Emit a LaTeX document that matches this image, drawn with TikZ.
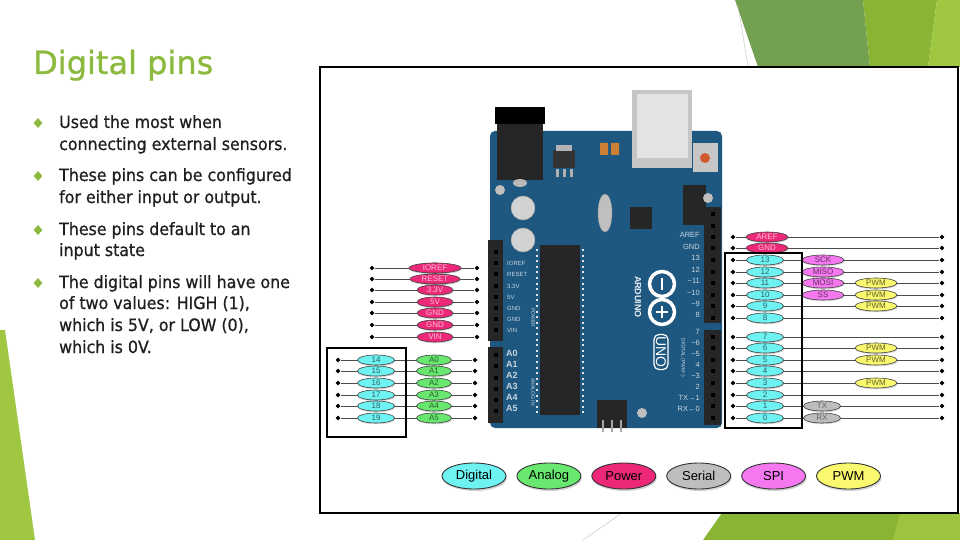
\documentclass[tikz,border=0pt]{standalone}
\usepackage{fontspec}
\setmainfont{Liberation Sans}
\newfontfamily\slidefont[FakeStretch=0.93,FakeBold=0.8]{DejaVu Sans}
\newfontfamily\titlefont[FakeBold=0.8]{DejaVu Sans}
\usetikzlibrary{shapes.geometric,shadows,positioning}

\definecolor{slidegreen}{RGB}{140,186,62}
\definecolor{greendark}{RGB}{116,160,82}
\definecolor{greenmid}{RGB}{137,180,52}
\definecolor{greenlight}{RGB}{158,198,64}
\definecolor{boardblue}{RGB}{30,88,128}
\definecolor{pindigital}{RGB}{110,242,242}
\definecolor{pinanalog}{RGB}{105,232,112}
\definecolor{pinpower}{RGB}{238,40,120}
\definecolor{pinserial}{RGB}{190,190,190}
\definecolor{pinspi}{RGB}{245,120,240}
\definecolor{pinpwm}{RGB}{250,248,110}

\tikzset{
  pinoval/.style={ellipse, draw=black!75, line width=0.6pt, inner sep=0pt,
    minimum height=10pt, font=\fontsize{8}{8}\selectfont,
    drop shadow={shadow xshift=0.6pt, shadow yshift=-1.2pt, opacity=0.35}},
  digitalpin/.style={pinoval, fill=pindigital, text=pindigital!40!black, minimum width=37pt},
  analogpin/.style={pinoval, fill=pinanalog, text=pinanalog!40!black, minimum width=35pt},
  powerpin/.style={pinoval, fill=pinpower, text=pinpower!30!white, minimum width=36pt},
  serialpin/.style={pinoval, fill=pinserial, text=black!60, minimum width=37pt},
  spipin/.style={pinoval, fill=pinspi, text=pinspi!40!black, minimum width=42pt},
  pwmpin/.style={pinoval, fill=pinpwm, text=pinpwm!40!black, minimum width=42pt},
  legendoval/.style={ellipse, draw=black!80, line width=0.9pt, inner sep=0pt,
    minimum width=64pt, minimum height=26pt, font=\fontsize{13}{13}\selectfont,
    drop shadow={shadow xshift=1pt, shadow yshift=-2pt, opacity=0.35}},
  pindot/.style={diamond, fill=black, inner sep=0pt, minimum size=5pt},
  wire/.style={black!70, line width=0.7pt},
  bulletmark/.style={diamond, fill=slidegreen, inner sep=0pt, minimum width=9pt, minimum height=10pt},
  bodytext/.style={anchor=base west, inner sep=0pt, text=black!88,
    font=\slidefont\fontsize{17}{20}\selectfont},
  header/.style={fill=black!85},
  hole/.style={fill=black, minimum size=4pt, inner sep=0pt},
  boardlbl/.style={text=white!75!boardblue, inner sep=0pt, font=\fontsize{6}{6}\selectfont},
  framebox/.style={draw=black, line width=2.2pt},
}

\begin{document}
\begin{tikzpicture}[x=1pt,y=-1pt]
\useasboundingbox (0,0) rectangle (960,540);
\fill[white] (0,0) rectangle (960,540);

% slide decoration
\fill[greendark] (735,0) -- (863,0) -- (870,67) -- (758,67) -- cycle;
\fill[greenmid] (863,0) -- (937,0) -- (928,67) -- (870,67) -- cycle;
\fill[greenlight] (937,0) -- (960,0) -- (960,67) -- (928,67) -- cycle;
\draw[black!30, line width=0.3pt] (738,5) -- (748,67);
\fill[greenmid] (722,513) -- (960,513) -- (960,540) -- (703,540) -- cycle;
\fill[greenlight!90!greenmid] (900,513) -- (960,513) -- (960,540) -- (893,540) -- cycle;
\draw[black!30, line width=0.3pt] (583,540) -- (622,513);
\fill[greenlight] (0,330) -- (5,330) -- (35,540) -- (0,540) -- cycle;

% title and bullets
\node[anchor=base west, inner sep=0pt, text=slidegreen,
  font=\titlefont\fontsize{32}{32}\selectfont] (title) at (33,74) {Digital pins};
\foreach \y [count=\i] in {123,176,230,283}
  \node[bulletmark] (bul\i) at (38,\y) {};
\foreach \y/\txt [count=\i] in {128/Used the most when, 150/connecting external sensors.,
    181/These pins can be configured, 203/for either input or output.,
    235/These pins default to an, 256/input state,
    288/The digital pins will have one, 309/{of two values: HIGH (1),},
    331/{which is 5V, or LOW (0),}, 353/which is 0V.}
  \node[bodytext] (line\i) at (59,\y) {\txt};

% picture frame
\draw[line width=1.8pt] (320,67) rectangle (958,513);

% board
\fill[boardblue, rounded corners=5pt] (490,131) rectangle (722,428);
\fill[black!85] (497,112) rectangle (543,180);
\fill[black] (495,107) rectangle (545,124);
\fill[gray!55] (520,183) ellipse (7 and 4);
\fill[gray!45] (632,90) rectangle (692,168);
\fill[gray!22] (637,94) rectangle (688,158);
\fill[gray!45] (693,143) rectangle (718,172);
\fill[brown!70!red] (705,158) circle (5);
\fill[black!80] (553,150) rectangle (575,168);
\fill[gray!60] (556,145) rectangle (572,151);
\foreach \x in {557,564,571}
  \fill[gray!60] (\x-1.5,169) rectangle (\x+1.5,177);
\fill[gray!35, draw=gray!70] (523,208) circle (12) (523,240) circle (12);
\fill[gray!50, draw=gray!75] (605,213) ellipse (7 and 19);
\fill[black!85] (630,207) rectangle (652,229);
\fill[black!85] (683,185) rectangle (706,225);
\fill[orange!60!gray] (600,143) rectangle (608,155) (611,143) rectangle (619,155);
\fill[gray!50] (500,190) circle (5) (708,198) circle (5) (642,413) circle (5);
\fill[black!85] (540,245) rectangle (580,415);
\draw[white!80!gray, line width=2pt, dash pattern=on 2pt off 3.6pt] (537,249) -- (537,413) (583,249) -- (583,413);
\fill[black!85] (597,400) rectangle (627,428);
\foreach \x in {603,612,621}
  \draw[gray!70, line width=1.5pt] (\x,420) -- (\x,432);

% headers
\fill[header] (488,240) rectangle (503,341);
\fill[header] (488,347) rectangle (503,423);
\fill[header] (704,207) rectangle (721,323);
\fill[header] (704,330) rectangle (721,425);
\foreach \y in {252,263,274,286,297,308,319,330,355,366,378,389,400,411}
  \node[hole] at (495.5,\y) {};
\foreach \y in {214,226,237,248,260,272,283,295,306,318,337,348,360,371,383,395,406,418}
  \node[hole] at (712.5,\y) {};

% logo
\draw[white, line width=3.5pt] (662,284) circle (12.5) (662,312) circle (12.5);
\draw[white, line width=2pt] (662,278) -- (662,290) (662,306) -- (662,318) (656,312) -- (668,312);
\node[draw=white, rounded corners=5pt, line width=1.2pt, rotate=-90, text=white,
  inner sep=2pt, font=\fontsize{14}{14}\selectfont] (uno) at (661,352) {UNO};
\node[rotate=-90, text=white!90!boardblue, inner sep=0pt,
  font=\bfseries\fontsize{9}{9}\selectfont] (brand) at (638,297) {ARDUINO};

% board labels
\foreach \y/\txt in {263/IOREF,274/RESET,286/3.3V,297/5V,308/GND,319/GND,330/VIN}
  \node[boardlbl, anchor=west] at (507,\y) {\txt};
\foreach \y/\txt in {353/A0,364/A1,375/A2,386/A3,397/A4,408/A5}
  \node[boardlbl, anchor=west, font=\bfseries\fontsize{9}{9}\selectfont] at (506,\y) {\txt};
\node[boardlbl, rotate=-90, font=\fontsize{5}{5}\selectfont] at (533,318) {POWER};
\node[boardlbl, rotate=-90, font=\fontsize{5}{5}\selectfont] at (533,392) {ANALOG IN};
\foreach \y/\txt in {235/AREF,247/GND,258/13,270/12,281/{\textasciitilde11},293/{\textasciitilde10},
    304/{\textasciitilde9},315/8,332/7,343/{\textasciitilde6},354/{\textasciitilde5},365/4,
    376/{\textasciitilde3},387/2,398/{TX→1},409/{RX←0}}
  \node[boardlbl, anchor=east, font=\fontsize{7.5}{7.5}\selectfont] at (700,\y) {\txt};
\node[boardlbl, rotate=-90, font=\fontsize{5}{5}\selectfont] at (683,358) {DIGITAL (PWM\textasciitilde)};

% power side pins
\foreach \n/\y/\txt in {ioref/268/IOREF,reset/279/RESET,vthree/290/3.3V,vfive/302/5V,
    gnda/313/GND,gndb/325/GND,vin/337/VIN}{
  \node[pindot] (l\n) at (372,\y) {};
  \node[pindot] (r\n) at (477,\y) {};
  \draw[wire] (l\n) -- (r\n);
  \node[powerpin] (\n) at (435,\y) {\txt};
}
\node[powerpin, minimum width=52pt] at (ioref) {IOREF};
\node[powerpin, minimum width=50pt] at (reset) {RESET};

% analog side pins
\foreach \n/\y [evaluate=\n as \d using int(\n+14)] in {0/360,1/371,2/383,3/395,4/406,5/418}{
  \node[pindot] (la\n) at (338,\y) {};
  \node[pindot] (ra\n) at (475,\y) {};
  \draw[wire] (la\n) -- (ra\n);
  \node[digitalpin] (d\d) at (376,\y) {\d};
  \node[analogpin] (a\n) at (434,\y) {A\n};
}
\draw[framebox] (327,348) rectangle (406,437);

% digital side pins
\foreach \n/\y/\txt in {aref/237/AREF,gnd/248/GND}{
  \node[pindot] (l\n) at (733,\y) {};
  \node[pindot] (r\n) at (942,\y) {};
  \draw[wire] (l\n) -- (r\n);
  \node[powerpin, minimum width=42pt] (\n) at (767,\y) {\txt};
}
\foreach \n/\y in {13/260,12/272,11/283,10/295,9/306,8/318,7/337,6/348,5/360,4/371,3/383,2/395,1/406,0/418}{
  \node[pindot] (ld\n) at (733,\y) {};
  \node[pindot] (rd\n) at (942,\y) {};
  \draw[wire] (ld\n) -- (rd\n);
  \node[digitalpin] (d\n) at (765,\y) {\n};
}
\foreach \n/\txt in {13/SCK,12/MISO,11/MOSI,10/SS}
  \node[spipin] (spi\n) at (ld\n -| 823,0) {\txt};
\foreach \n in {11,10,9,6,5,3}
  \node[pwmpin] (pwm\n) at (ld\n -| 876,0) {PWM};
\node[serialpin] (tx) at (ld1 -| 822,0) {TX};
\node[serialpin] (rx) at (ld0 -| 822,0) {RX};
\draw[framebox] (725,253) rectangle (802,428);

% legend
\node[legendoval, fill=pindigital] (lgdigital) at (474,476) {Digital};
\node[legendoval, fill=pinanalog, right=10pt of lgdigital] (lganalog) {Analog};
\node[legendoval, fill=pinpower, right=10pt of lganalog] (lgpower) {Power};
\node[legendoval, fill=pinserial, right=10pt of lgpower] (lgserial) {Serial};
\node[legendoval, fill=pinspi, right=10pt of lgserial] (lgspi) {SPI};
\node[legendoval, fill=pinpwm, right=10pt of lgspi] (lgpwm) {PWM};
\end{tikzpicture}
\end{document}
